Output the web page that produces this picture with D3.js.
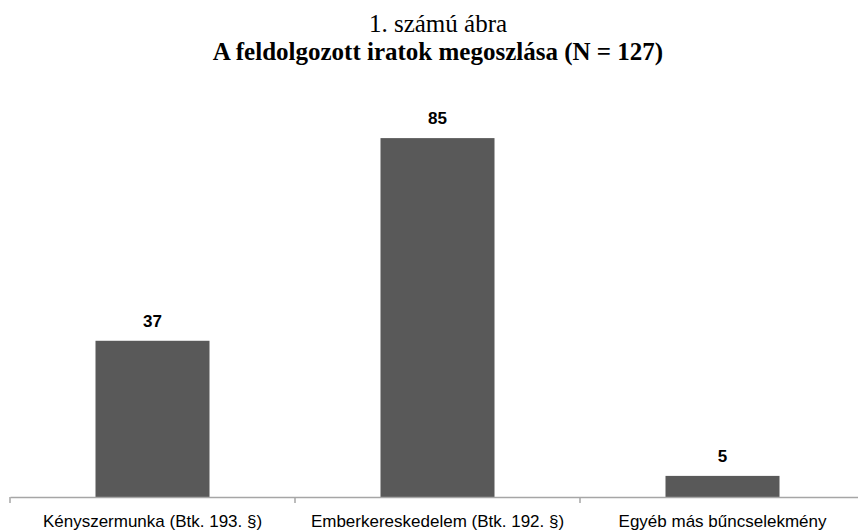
<!DOCTYPE html>
<html>
<head>
<meta charset="utf-8">
<script src="https://cdn.jsdelivr.net/npm/d3@7"></script>
<style>
  body { margin: 0; background: #fff; }
  svg { display: block; }
</style>
</head>
<body>
<div id="chart"></div>
<script>
// adatok
var categories = ["Kényszermunka (Btk. 193. §)", "Emberkereskedelem (Btk. 192. §)", "Egyéb más bűncselekmény"];
var counts = [37, 85, 5];
var titleLines = ["1. számú ábra", "A feldolgozott iratok megoszlása (N = 127)"];

var width = 858, height = 531;
var axisY = 497;

var svg = d3.select("#chart")
  .append("svg")
    .attr("width", width)
    .attr("height", height);

// címek
svg.append("text")
    .attr("x", 438).attr("y", 32)
    .attr("text-anchor", "middle")
    .style("font-family", "'Liberation Serif', serif")
    .style("font-size", "25px")
    .attr("fill", "#000")
    .text(titleLines[0]);

svg.append("text")
    .attr("x", 438).attr("y", 60)
    .attr("text-anchor", "middle")
    .style("font-family", "'Liberation Serif', serif")
    .style("font-size", "25px")
    .style("font-weight", "bold")
    .attr("fill", "#000")
    .text(titleLines[1]);

var data = categories.map(function(c, i) { return {cat: c, value: counts[i]}; });

// X scale (category bands)
var x = d3.scaleBand()
  .domain(categories)
  .range([10, 865])
  .padding(0);

// Y scale
var y = d3.scaleLinear()
  .domain([0, 90])
  .range([axisY, 117]);

var barW = x.bandwidth() * 0.4;

svg.selectAll(".bar")
  .data(data)
  .enter()
  .append("rect")
    .attr("class", "bar")
    .attr("x", function(d) { return x(d.cat) + (x.bandwidth() - barW) / 2; })
    .attr("y", function(d) { return y(d.value); })
    .attr("width", barW)
    .attr("height", function(d) { return axisY - y(d.value); })
    .attr("fill", "#595959");

// értékek az oszlopok fölött
svg.selectAll(".val")
  .data(data)
  .enter()
  .append("text")
    .attr("class", "val")
    .attr("x", function(d) { return x(d.cat) + x.bandwidth() / 2; })
    .attr("y", function(d) { return y(d.value) - 14; })
    .attr("text-anchor", "middle")
    .style("font-family", "'Liberation Sans', Arial, sans-serif")
    .style("font-size", "17px")
    .style("font-weight", "bold")
    .attr("fill", "#000")
    .text(function(d) { return d.value; });

// x tengely
var axis = svg.append("g")
  .attr("transform", "translate(0," + axisY + ")")
  .call(d3.axisBottom(x).tickSize(0).tickPadding(18));

axis.select(".domain")
  .attr("stroke", "#a6a6a6")
  .attr("stroke-width", 1.5);

axis.selectAll(".tick text")
  .style("font-family", "'Liberation Sans', Arial, sans-serif")
  .style("font-size", "17px")
  .attr("fill", "#000");

// osztóvonalak a kategóriák között
var bounds = categories.map(function(c) { return x(c); }).concat([x.range()[1]]);
axis.selectAll(".sep")
  .data(bounds)
  .enter()
  .append("line")
    .attr("class", "sep")
    .attr("x1", function(d) { return d; })
    .attr("x2", function(d) { return d; })
    .attr("y1", 0)
    .attr("y2", 6)
    .attr("stroke", "#a6a6a6")
    .attr("stroke-width", 1.5);
</script>
</body>
</html>
